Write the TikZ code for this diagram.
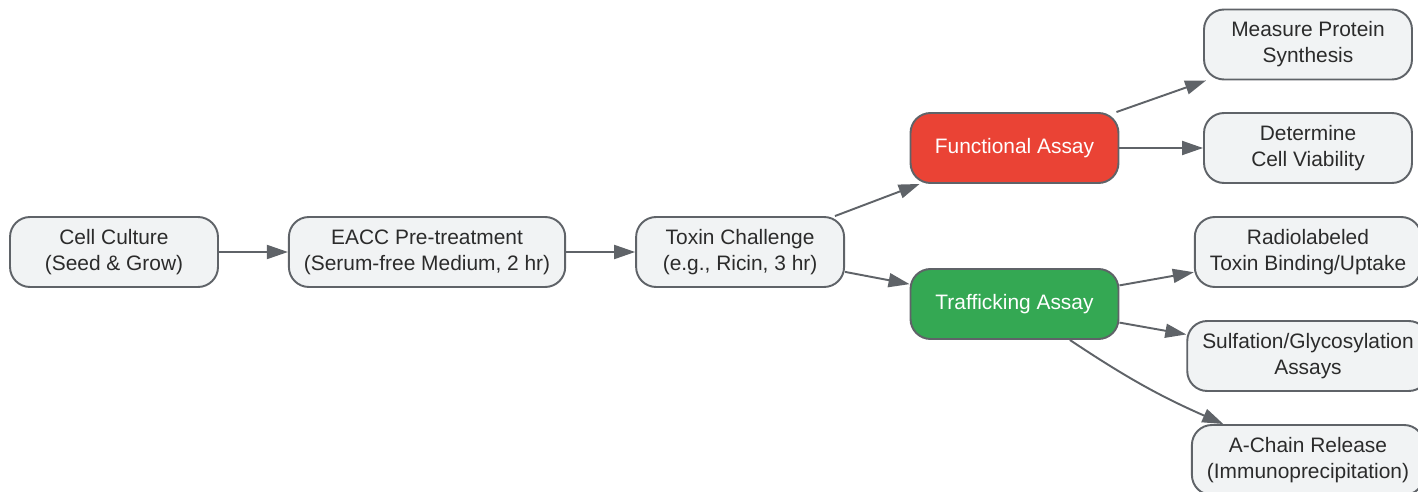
\documentclass[tikz,border=0pt]{standalone}
\usepackage{fontspec}
\setmainfont{Liberation Sans}
\usepackage{tikz}
\usetikzlibrary{arrows.meta,positioning}
\definecolor{boxfill}{HTML}{F1F3F4}
\definecolor{boxline}{HTML}{5F6368}
\definecolor{boxtext}{HTML}{2B2B2B}
\definecolor{funcred}{HTML}{EA4335}
\definecolor{trafgreen}{HTML}{34A853}

\begin{document}
\begin{tikzpicture}[x=0.02cm, y=0.02cm,
	stagebox/.style={draw=boxline, fill=boxfill, line width=1.1pt, rounded corners=0.4cm,
		minimum width=4.16cm, minimum height=1.4cm, inner xsep=0.3cm, align=center,
		text=boxtext, font=\fontsize{11.9}{14.7}\selectfont},
	assaybox/.style={stagebox, text=white},
	link/.style={draw=boxline, line width=1.1pt, -{Triangle[length=0.42cm,width=0.28cm]}}]
	\def \assayx {1014.5}
\def \readx {1308}
\def \rowmid {239}

\useasboundingbox (0,0) rectangle (1418,491);
\clip (0,0) rectangle (1418,491);

%Preparation chain
\node[stagebox] (culture) at (114,\rowmid) {Cell Culture\\(Seed \& Grow)};
\node[stagebox, right=1.38cm of culture] (pretreat) {EACC Pre-treatment\\(Serum-free Medium, 2 hr)};
\node[stagebox, right=1.38cm of pretreat] (challenge) {Toxin Challenge\\(e.g., Ricin, 3 hr)};

%Assay branches
\node[assaybox, fill=funcred] (functional) at (\assayx,343) {Functional Assay};
\node[assaybox, fill=trafgreen] (trafficking) at (\assayx,187) {Trafficking Assay};

%Read-outs
\node[stagebox] (synthesis) at (\readx,446.5) {Measure Protein\\Synthesis};
\node[stagebox] (viability) at (\readx,343) {Determine\\Cell Viability};
\node[stagebox] (binding) at (\readx,239) {Radiolabeled\\Toxin Binding/Uptake};
\node[stagebox] (sulfation) at (\readx,135) {Sulfation/Glycosylation\\Assays};
\node[stagebox] (release) at (\readx,31) {A-Chain Release\\(Immunoprecipitation)};

%Connectors
\draw[link] (culture) -- (pretreat);
\draw[link] (pretreat) -- (challenge);
\draw[link] (challenge) -- (functional);
\draw[link] (challenge) -- (trafficking);
\draw[link] (functional) -- (synthesis);
\draw[link] (functional) -- (viability);
\draw[link] (trafficking) -- (binding);
\draw[link] (trafficking) -- (sulfation);
\draw[link] (trafficking) to[bend right=5] (release);

	\end{tikzpicture}
\end{document}
